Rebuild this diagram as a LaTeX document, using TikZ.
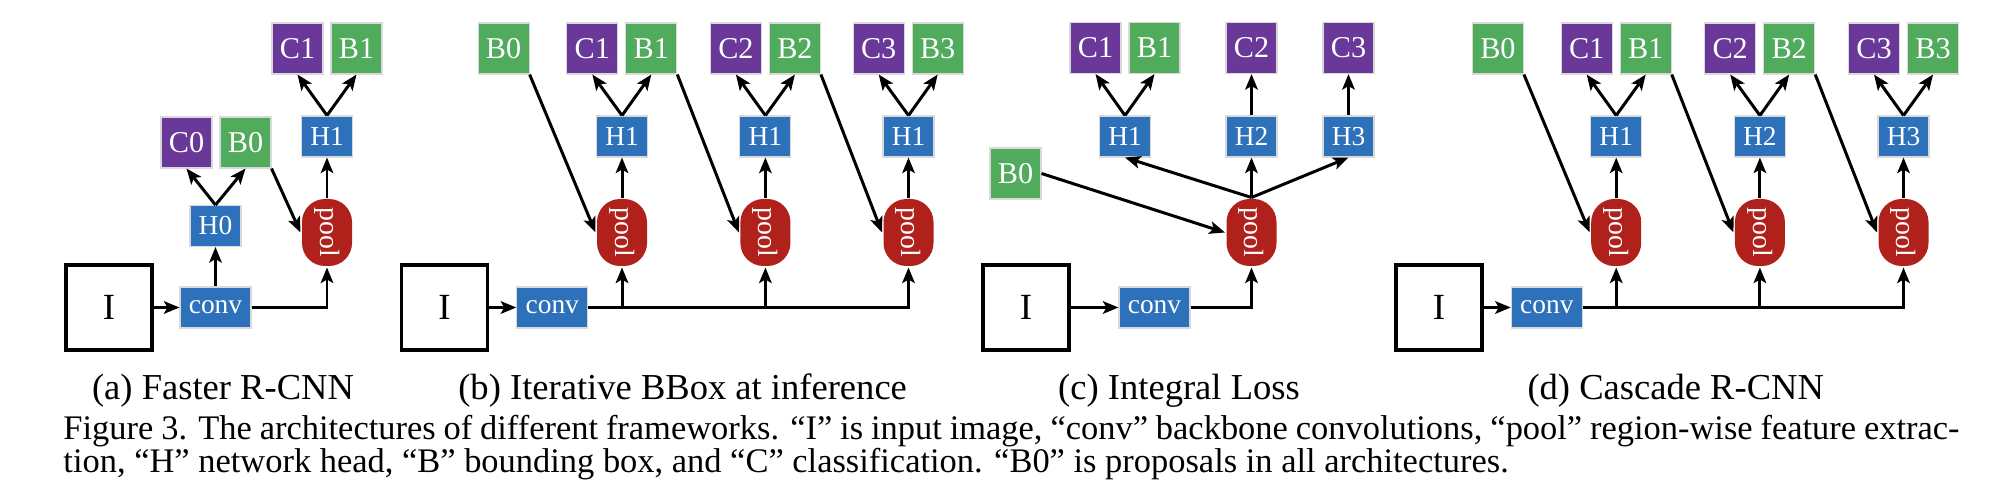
\documentclass[tikz,border=0pt]{standalone}
\usepackage{fontspec}
\setmainfont{Liberation Serif}
\usepackage{graphicx}
\usepackage{tikz}
\usetikzlibrary{arrows.meta}

\definecolor{clspurple}{RGB}{105,56,152}
\definecolor{boxgreen}{RGB}{81,171,92}
\definecolor{headblue}{RGB}{45,113,187}
\definecolor{poolred}{RGB}{176,33,27}
\newcommand{\pooltext}{\rotatebox{-90}{pool}}

\begin{document}
\begin{tikzpicture}[x=0.1mm,y=-0.1mm,>={Stealth[length=1.55mm,width=1.25mm,inset=0.35mm]},line width=0.85pt,node distance=5.9mm,
        base node/.style={draw=black!15,line width=0.3pt,inner sep=0pt,text=white,font=\fontsize{8.6}{8.6}\selectfont},
        cls node/.style={base node,fill=clspurple,minimum size=5.1mm},
        box node/.style={base node,fill=boxgreen,minimum size=5.1mm},
        head node/.style={base node,fill=headblue,minimum width=5.1mm,minimum height=4.1mm,font=\fontsize{7.8}{7.8}\selectfont},
        conv node/.style={head node,minimum width=7.1mm},
        pool node/.style={fill=poolred,text=white,rounded corners=2.3mm,inner sep=0pt,minimum width=5mm,minimum height=6.7mm,font=\fontsize{7.9}{7.9}\selectfont},
        img node/.style={draw,line width=0.9pt,minimum width=8.6mm,minimum height=8.5mm,font=\fontsize{10.5}{10.5}\selectfont},
        sub caption/.style={anchor=base,inner sep=0pt,font=\fontsize{10.4}{10.4}\selectfont},
        fig caption/.style={anchor=base west,inner sep=0pt,font=\fontsize{9.8}{9.8}\selectfont}]
        \useasboundingbox (0,0) rectangle (2010,502);

        % (a)
        \node[img node] (aI) at (109,307.5) {I};
        \node[conv node] (aconv) at (215.5,307.5) {conv};
        \node[head node] (aH0) at (215.5,226) {H0};
        \node[cls node] (aC0) at (186.5,142.5) {C0};
        \node[box node] (aB0) [right of=aC0] {B0};
        \node[pool node] (apool) at (327,232.5) {\pooltext};
        \node[head node] (aH1) at (327,136.5) {H1};
        \node[cls node] (aC1) at (297.5,48.5) {C1};
        \node[box node] (aB1) [right of=aC1] {B1};
        \node[sub caption] (acap) at (223,399) {(a) Faster R-CNN};
        \path[->]
        (aI) edge (aconv)
        (aconv) edge (aH0)
        (aH0.north) edge (aC0.south)
        (aH0.north) edge (aB0.south)
        (aB0.south east) edge (apool.west)
        (apool) edge (aH1)
        (aH1.north) edge (aC1.south)
        (aH1.north) edge (aB1.south)
        ;
        \draw[->] (aconv) -| (apool);

        % (b)
        \node[img node] (bI) at (444.6,307.5) {I};
        \node[conv node] (bconv) at (552.3,307.5) {conv};
        \node[box node] (bB0) at (503.6,48.5) {B0};
        \node[cls node] (bC1) at (592.3,48.5) {C1};
        \node[box node] (bB1) [right of=bC1] {B1};
        \node[head node] (bH1) at (622,136.5) {H1};
        \node[pool node] (bpool1) at (622,232.5) {\pooltext};
        \node[cls node] (bC2) at (735.9,48.5) {C2};
        \node[box node] (bB2) [right of=bC2] {B2};
        \node[head node] (bH2) at (765.4,136.5) {H1};
        \node[pool node] (bpool2) at (765.4,232.5) {\pooltext};
        \node[cls node] (bC3) at (878.7,48.5) {C3};
        \node[box node] (bB3) [right of=bC3] {B3};
        \node[head node] (bH3) at (908.5,136.5) {H1};
        \node[pool node] (bpool3) at (908.5,232.5) {\pooltext};
        \node[sub caption] (bcap) at (682.6,399) {(b) Iterative BBox at inference};
        \path[->]
        (bI) edge (bconv)
        (bB0.south east) edge (bpool1.west)
        (bB1.south east) edge (bpool2.west)
        (bB2.south east) edge (bpool3.west)
        (bpool1) edge (bH1)
        (bpool2) edge (bH2)
        (bpool3) edge (bH3)
        (bH1.north) edge (bC1.south)
        (bH1.north) edge (bB1.south)
        (bH2.north) edge (bC2.south)
        (bH2.north) edge (bB2.south)
        (bH3.north) edge (bC3.south)
        (bH3.north) edge (bB3.south)
        ;
        \draw[->] (bconv) -| (bpool3);
        \draw[->] (bpool1 |- bconv) -- (bpool1);
        \draw[->] (bpool2 |- bconv) -- (bpool2);

        % (c)
        \node[img node] (cI) at (1026,307.5) {I};
        \node[conv node] (cconv) at (1154.5,307.5) {conv};
        \node[box node] (cB0) at (1015.5,173.5) {B0};
        \node[pool node] (cpool) at (1251.5,232.5) {\pooltext};
        \node[head node] (cH1) at (1125,136.5) {H1};
        \node[head node] (cH2) at (1251.5,136.5) {H2};
        \node[head node] (cH3) at (1348.5,136.5) {H3};
        \node[cls node] (cC1) at (1095.5,48) {C1};
        \node[box node] (cB1) [right of=cC1] {B1};
        \node[cls node] (cC2) at (1251.5,48) {C2};
        \node[cls node] (cC3) at (1348.5,48) {C3};
        \node[sub caption] (ccap) at (1179,399) {(c) Integral Loss};
        \path[->]
        (cI) edge (cconv)
        (cB0.east) edge (cpool.west)
        (cpool.north) edge (cH1.south)
        (cpool.north) edge (cH2.south)
        (cpool.north) edge (cH3.south)
        (cH1.north) edge (cC1.south)
        (cH1.north) edge (cB1.south)
        (cH2) edge (cC2)
        (cH3) edge (cC3)
        ;
        \draw[->] (cconv) -| (cpool);

        % (d)
        \node[img node] (dI) at (1439,307.5) {I};
        \node[conv node] (dconv) at (1546.8,307.5) {conv};
        \node[box node] (dB0) at (1497.9,48.5) {B0};
        \node[cls node] (dC1) at (1586.7,48.5) {C1};
        \node[box node] (dB1) [right of=dC1] {B1};
        \node[head node] (dH1) at (1616.2,136.5) {H1};
        \node[pool node] (dpool1) at (1616.2,232.5) {\pooltext};
        \node[cls node] (dC2) at (1730.2,48.5) {C2};
        \node[box node] (dB2) [right of=dC2] {B2};
        \node[head node] (dH2) at (1759.9,136.5) {H2};
        \node[pool node] (dpool2) at (1759.9,232.5) {\pooltext};
        \node[cls node] (dC3) at (1874,48.5) {C3};
        \node[box node] (dB3) [right of=dC3] {B3};
        \node[head node] (dH3) at (1903.5,136.5) {H3};
        \node[pool node] (dpool3) at (1903.5,232.5) {\pooltext};
        \node[sub caption] (dcap) at (1675.7,399) {(d) Cascade R-CNN};
        \path[->]
        (dI) edge (dconv)
        (dB0.south east) edge (dpool1.west)
        (dB1.south east) edge (dpool2.west)
        (dB2.south east) edge (dpool3.west)
        (dpool1) edge (dH1)
        (dpool2) edge (dH2)
        (dpool3) edge (dH3)
        (dH1.north) edge (dC1.south)
        (dH1.north) edge (dB1.south)
        (dH2.north) edge (dC2.south)
        (dH2.north) edge (dB2.south)
        (dH3.north) edge (dC3.south)
        (dH3.north) edge (dB3.south)
        ;
        \draw[->] (dconv) -| (dpool3);
        \draw[->] (dpool1 |- dconv) -- (dpool1);
        \draw[->] (dpool2 |- dconv) -- (dpool2);

        \node[fig caption] (fig1) at (62,439) {\makebox[189.6mm][s]{Figure 3. The architectures of different frameworks. “I” is input image, “conv” backbone convolutions, “pool” region-wise feature extrac-}};
        \node[fig caption] (fig2) at (62,472) {tion, “H” network head, “B” bounding box, and “C” classification. “B0” is proposals in all architectures.};
        \end{tikzpicture}
\end{document}
